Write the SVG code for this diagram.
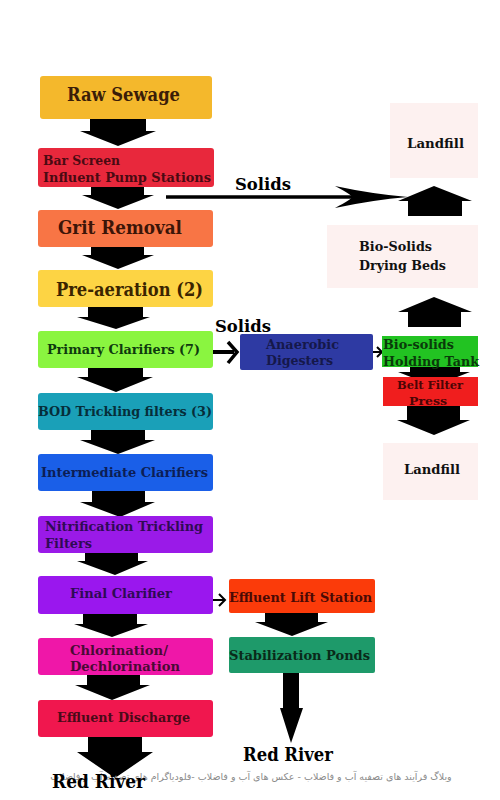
<svg xmlns="http://www.w3.org/2000/svg" width="500" height="800" viewBox="0 0 500 800">
<style>
.t{font-family:"DejaVu Serif","Liberation Serif",serif;font-weight:bold}
.big{font-size:18px}
.md{font-size:13px}
.sm{font-size:12.5px}
.box{stroke:none}
.ar{fill:#000}
.pale{fill:#fdf1f0}
.wm{font-family:"DejaVu Sans","Noto Sans",sans-serif;font-size:9.5px;fill:#8a8a8a}
</style>
<rect width="500" height="800" fill="#fff"/>

<g id="connectors">
  <polygon class="ar" points="90,118 146,118 146,131 156,131 118,146 80,131 90,131"/>
  <polygon class="ar" points="91,186 144,186 144,195 154,195 118,209 82,195 91,195"/>
  <polygon class="ar" points="91,246 144,246 144,255 154,255 118,269 82,255 91,255"/>
  <polygon class="ar" points="88,306 143,306 143,317 150,317 116,329 77,317 88,317"/>
  <polygon class="ar" points="88,367 143,367 143,377 153,377 116,392 77,377 88,377"/>
  <polygon class="ar" points="91,429 145,429 145,440 155,440 118,454 80,440 91,440"/>
  <polygon class="ar" points="92,490 145,490 145,502 155,502 120,517 80,502 92,502"/>
  <polygon class="ar" points="85,552 138,552 138,561 148,561 115,575 77,561 85,561"/>
  <polygon class="ar" points="83,613 137,613 137,624 148,624 112,637 74,624 83,624"/>
  <polygon class="ar" points="87,674 140,674 140,685 150,685 112,700 75,685 87,685"/>
  <polygon class="ar" points="88,736 142,736 142,752 153,752 115,778 77,752 88,752"/>
  <line x1="166" y1="197" x2="352" y2="197" stroke="#000" stroke-width="3.5"/>
  <path class="ar" d="M335,186 Q372,194 408,197 Q372,200 335,208 Q352,199 352,197 Q352,195 335,186 Z"/>
  <polygon class="ar" points="408,216 462,216 462,201 472,201 434,186 398,201 408,201"/>
  <polygon class="ar" points="408,327 461,327 461,312 472,312 434,297 398,312 408,312"/>
  <line x1="211" y1="352" x2="234" y2="352" stroke="#000" stroke-width="4"/>
  <path d="M228,342 L237,352 L228,363" fill="none" stroke="#000" stroke-width="3.5"/>
  <line x1="365" y1="352" x2="381" y2="352" stroke="#000" stroke-width="2"/>
  <path d="M377,347 L382,352 L377,357" fill="none" stroke="#000" stroke-width="2"/>
  <polygon class="ar" points="410,366 460,366 460,372 470,372 434,386 398,372 410,372"/>
  <polygon class="ar" points="407,405 460,405 460,420 470,420 434,435 397,420 407,420"/>
  <line x1="205" y1="600" x2="224" y2="600" stroke="#000" stroke-width="2"/>
  <path d="M219,594 L225,600 L219,606" fill="none" stroke="#000" stroke-width="2"/>
  <polygon class="ar" points="265,612 318,612 318,622 328,622 292,636 255,622 265,622"/>
  <polygon class="ar" points="283,673 299,673 299,708 303,708 291,743 280,708 283,708"/>
</g>

<g id="raw-sewage"><rect class="box" x="40" y="76" width="172" height="43" rx="3" fill="#f4b82c"/>
<text class="t big" x="67" y="101" fill="#3b1d08" textLength="113" lengthAdjust="spacingAndGlyphs">Raw Sewage</text></g>

<g id="bar-screen"><rect class="box" x="38" y="148" width="176" height="39" rx="3" fill="#e8283c"/>
<text class="t md" x="43" y="165" fill="#4a0a12" textLength="77" lengthAdjust="spacingAndGlyphs">Bar Screen</text>
<text class="t md" x="43" y="182" fill="#4a0a12" textLength="168" lengthAdjust="spacingAndGlyphs">Influent Pump Stations</text></g>

<g id="grit-removal"><rect class="box" x="38" y="210" width="175" height="37" rx="3" fill="#f87545"/>
<text class="t big" x="58" y="234" fill="#3c1508" textLength="124" lengthAdjust="spacingAndGlyphs">Grit Removal</text></g>

<g id="pre-aeration"><rect class="box" x="38" y="270" width="175" height="37" rx="3" fill="#fdd444"/>
<text class="t big" x="56" y="296" fill="#3a2400" textLength="147" lengthAdjust="spacingAndGlyphs">Pre-aeration (2)</text></g>

<g id="primary-clarifiers"><rect class="box" x="38" y="331" width="175" height="37" rx="3" fill="#8af540"/>
<text class="t sm" x="47" y="354" fill="#0e3a0e" textLength="153" lengthAdjust="spacingAndGlyphs">Primary Clarifiers (7)</text></g>

<g id="bod-trickling"><rect class="box" x="38" y="393" width="175" height="37" rx="3" fill="#1aa0b8"/>
<text class="t sm" x="38" y="416" fill="#062e3a" textLength="174" lengthAdjust="spacingAndGlyphs">BOD Trickling filters (3)</text></g>

<g id="intermediate-clarifiers"><rect class="box" x="38" y="454" width="175" height="37" rx="3" fill="#1a5fe8"/>
<text class="t sm" x="41" y="477" fill="#0c1e55" textLength="167" lengthAdjust="spacingAndGlyphs">Intermediate Clarifiers</text></g>

<g id="nitrification"><rect class="box" x="38" y="516" width="175" height="37" rx="3" fill="#9a1ae8"/>
<text class="t sm" x="45" y="531" fill="#300a55" textLength="158" lengthAdjust="spacingAndGlyphs">Nitrification Trickling</text>
<text class="t sm" x="45" y="548" fill="#300a55" textLength="47" lengthAdjust="spacingAndGlyphs">Filters</text></g>

<g id="final-clarifier"><rect class="box" x="38" y="576" width="175" height="38" rx="3" fill="#9a17ee"/>
<text class="t sm" x="70" y="598" fill="#2e0a55" textLength="102" lengthAdjust="spacingAndGlyphs">Final Clarifier</text></g>

<g id="chlorination"><rect class="box" x="38" y="638" width="175" height="37" rx="3" fill="#ef17a8"/>
<text class="t sm" x="70" y="655" fill="#4a0a35" textLength="98" lengthAdjust="spacingAndGlyphs">Chlorination/</text>
<text class="t sm" x="70" y="671" fill="#4a0a35" textLength="110" lengthAdjust="spacingAndGlyphs">Dechlorination</text></g>

<g id="effluent-discharge"><rect class="box" x="38" y="700" width="175" height="37" rx="3" fill="#f0174e"/>
<text class="t sm" x="57" y="722" fill="#4a0a18" textLength="133" lengthAdjust="spacingAndGlyphs">Effluent Discharge</text></g>

<g id="watermark"><text class="wm" x="251" y="780" text-anchor="middle">وبلاگ فرآیند های تصفیه آب و فاضلاب - عکس های آب و فاضلاب -فلودیاگرام های تصفیه آب و فاضلاب</text></g>

<g id="red-river-left"><text class="t" x="52" y="788" font-size="19" fill="#000" textLength="93" lengthAdjust="spacingAndGlyphs">Red River</text></g>

<g id="solids-label-1"><text class="t" x="235" y="190" font-size="16" fill="#000" textLength="56" lengthAdjust="spacingAndGlyphs">Solids</text></g>
<g id="solids-label-2"><text class="t" x="215" y="332" font-size="16" fill="#000" textLength="56" lengthAdjust="spacingAndGlyphs">Solids</text></g>

<g id="landfill-top"><rect class="pale" x="390" y="103" width="88" height="75"/>
<text class="t md" x="407" y="148" fill="#111" textLength="57" lengthAdjust="spacingAndGlyphs">Landfill</text></g>

<g id="drying-beds"><rect class="pale" x="327" y="225" width="151" height="63"/>
<text class="t md" x="359" y="251" fill="#111" textLength="73" lengthAdjust="spacingAndGlyphs">Bio-Solids</text>
<text class="t md" x="359" y="270" fill="#111" textLength="87" lengthAdjust="spacingAndGlyphs">Drying Beds</text></g>

<g id="anaerobic-digesters"><rect class="box" x="240" y="334" width="133" height="36" rx="2" fill="#2e3aa3"/>
<text class="t sm" x="266" y="349" fill="#15184a" textLength="73" lengthAdjust="spacingAndGlyphs">Anaerobic</text>
<text class="t sm" x="266" y="365" fill="#15184a" textLength="67" lengthAdjust="spacingAndGlyphs">Digesters</text></g>

<g id="holding-tank"><rect class="box" x="382" y="336" width="96" height="31" fill="#22c322"/>
<text class="t sm" x="383" y="349" fill="#0a3a0a" textLength="71" lengthAdjust="spacingAndGlyphs">Bio-solids</text>
<text class="t sm" x="383" y="366" fill="#0a3a0a" textLength="96" lengthAdjust="spacingAndGlyphs">Holding Tank</text></g>

<g id="belt-filter"><rect class="box" x="383" y="377" width="95" height="29" fill="#f01e1e"/>
<text class="t" x="397" y="389" font-size="11" fill="#4a0505" textLength="66" lengthAdjust="spacingAndGlyphs">Belt Filter</text>
<text class="t" x="409" y="405" font-size="11" fill="#4a0505" textLength="38" lengthAdjust="spacingAndGlyphs">Press</text></g>

<g id="landfill-bottom"><rect class="pale" x="383" y="443" width="95" height="57"/>
<text class="t md" x="404" y="474" fill="#111" textLength="56" lengthAdjust="spacingAndGlyphs">Landfill</text></g>

<g id="effluent-lift"><rect class="box" x="229" y="579" width="146" height="34" rx="2" fill="#fb3b0a"/>
<text class="t sm" x="229" y="602" fill="#4a0a05" textLength="143" lengthAdjust="spacingAndGlyphs">Effluent Lift Station</text></g>

<g id="stabilization-ponds"><rect class="box" x="229" y="637" width="146" height="36" rx="2" fill="#1e9a6a"/>
<text class="t sm" x="229" y="660" fill="#0a2a1a" textLength="141" lengthAdjust="spacingAndGlyphs">Stabilization Ponds</text></g>

<g id="red-river-right"><text class="t" x="243" y="761" font-size="18" fill="#000" textLength="90" lengthAdjust="spacingAndGlyphs">Red River</text></g>
</svg>
